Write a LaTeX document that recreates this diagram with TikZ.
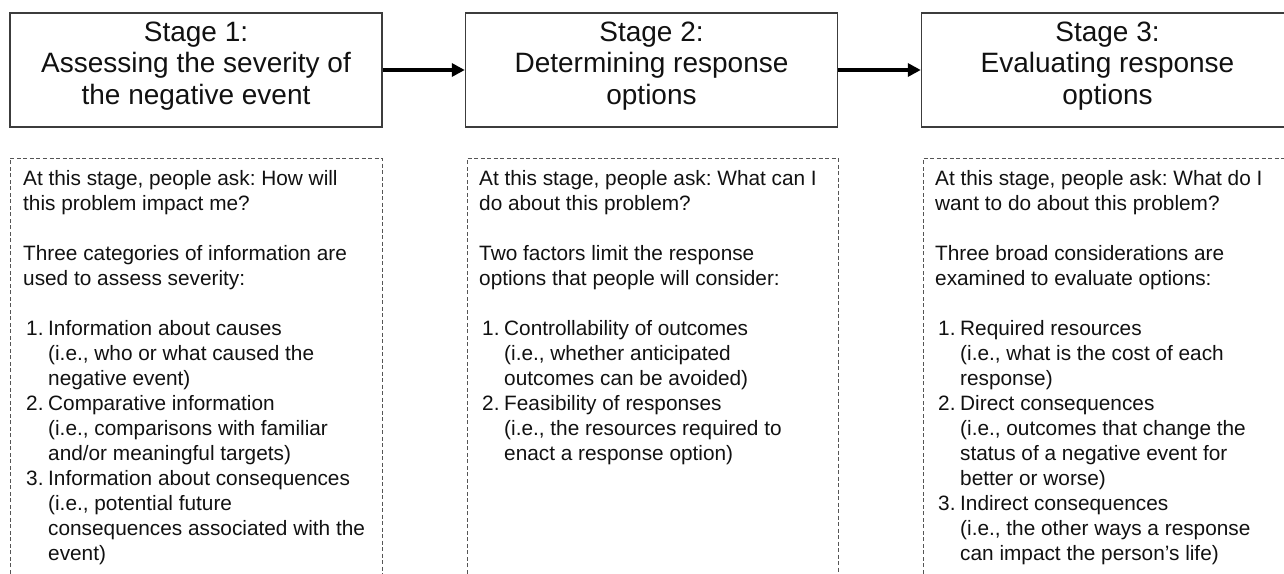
\documentclass[tikz,border=0pt]{standalone}
\usepackage{fontspec}
\setmainfont{Liberation Sans}
\frenchspacing
\usetikzlibrary{arrows.meta}
\definecolor{boxline}{HTML}{3C3C3C}
\definecolor{dashline}{HTML}{555555}
\definecolor{txt}{HTML}{111111}
\newcommand{\itm}[1]{\makebox[25pt][l]{\hspace*{3pt}#1}}
\newcommand{\ind}{\hspace*{25pt}}
\tikzset{
  stagebox/.style={draw=boxline, line width=1.4pt, minimum width=372pt, minimum height=114pt,
    inner sep=0pt},
  stagetext/.style={anchor=north, inner sep=0pt, align=center, text=txt,
    font=\fontsize{28}{31.5}\selectfont},
  bodytext/.style={anchor=north west, inner sep=0pt, align=left, text=txt,
    font=\fontsize{20.8}{25}\selectfont},
  dashbox/.style={draw=dashline, line width=1pt, dash pattern=on 4pt off 2.5pt},
  flow/.style={line width=3.8pt, -{Triangle[length=13pt,width=13pt]}}
}
\begin{document}
\begin{tikzpicture}[x=1pt,y=-1pt]
\useasboundingbox (0,0) rectangle (1284,573);
% stage boxes
\node[stagebox] (s1) at (196,70) {};
\node[stagebox] (s2) at (651.5,70) {};
\node[stagebox] (s3) at (1107.5,70) {};
\node[stagetext] (s1t) at (196,21.6) {Stage 1:\\Assessing the severity of\\the negative event};
\node[stagetext] (s2t) at (651.5,21.6) {Stage 2:\\Determining response\\options};
\node[stagetext] (s3t) at (1107.5,21.6) {Stage 3:\\Evaluating response\\options};
\draw[flow] (s1) -- (s2);
\draw[flow] (s2) -- (s3);
% dashed boxes (cut off at the bottom of the picture)
\draw[dashbox] (10,580) -- (10,158) -- (382,158) -- (382,580);
\draw[dashbox] (467,580) -- (467,158) -- (838,158) -- (838,580);
\draw[dashbox] (923,580) -- (923,158) -- (1295,158) -- (1295,580);
% texts
\node[bodytext] (t1) at (23,170.1) {At this stage, people ask: How will\\
this problem impact me?\\[25pt]
Three categories of information are\\
used to assess severity:\\[25pt]
\itm{1.}Information about causes\\
\ind(i.e., who or what caused the\\
\ind negative event)\\
\itm{2.}Comparative information\\
\ind(i.e., comparisons with familiar\\
\ind and/or meaningful targets)\\
\itm{3.}Information about consequences\\
\ind(i.e., potential future\\
\ind consequences associated with the\\
\ind event)};
\node[bodytext] (t2) at (479,170.1) {At this stage, people ask: What can I\\
do about this problem?\\[25pt]
Two factors limit the response\\
options that people will consider:\\[25pt]
\itm{1.}Controllability of outcomes\\
\ind(i.e., whether anticipated\\
\ind outcomes can be avoided)\\
\itm{2.}Feasibility of responses\\
\ind(i.e., the resources required to\\
\ind enact a response option)};
\node[bodytext] (t3) at (935,170.1) {At this stage, people ask: What do I\\
want to do about this problem?\\[25pt]
Three broad considerations are\\
examined to evaluate options:\\[25pt]
\itm{1.}Required resources\\
\ind(i.e., what is the cost of each\\
\ind response)\\
\itm{2.}Direct consequences\\
\ind(i.e., outcomes that change the\\
\ind status of a negative event for\\
\ind better or worse)\\
\itm{3.}Indirect consequences\\
\ind(i.e., the other ways a response\\
\ind can impact the person’s life)};
\end{tikzpicture}
\end{document}
